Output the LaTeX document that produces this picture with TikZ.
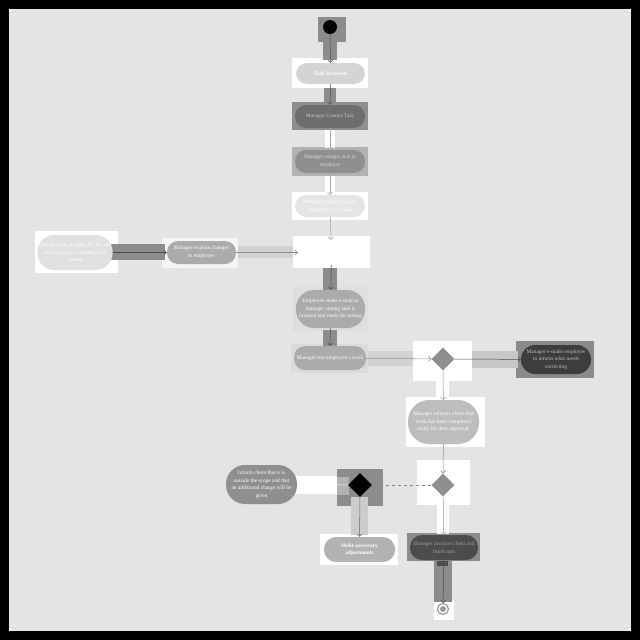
\documentclass[tikz,border=0pt]{standalone}
\usepackage{fontspec}
\setmainfont{Liberation Serif}
\usetikzlibrary{arrows.meta,shapes.geometric}
\definecolor{bg}{HTML}{E4E4E4}
\newcommand{\nodefont}{\fontsize{5.4}{7.6}\selectfont}
\begin{document}
\begin{tikzpicture}[x=1pt,y=-1pt,
  act/.style={draw=none,rounded corners=#1,align=center,inner sep=1pt,
    font=\nodefont},
  act/.default=11pt,
  dia/.style={diamond,draw=none,minimum width=23pt,minimum height=23pt,inner sep=0pt},
  conn/.style={draw=black!70,line width=0.5pt,-{Straight Barb[length=2.5pt,width=5pt]}}
]
\useasboundingbox (0,0) rectangle (640,640);
\fill[black] (0,0) rectangle (640,640);
\fill[bg] (9,9) rectangle (631,631);

% ---------- highlight boxes ----------
\fill[black!45] (318,17) rectangle (346,42);
\fill[white] (292,58) rectangle (368,88);
\fill[black!44] (292,102) rectangle (368,130);
\fill[black!30] (292,147) rectangle (368,176);
\fill[white] (292,192) rectangle (368,220);
\fill[white] (293,236) rectangle (370,268);
\fill[white!96!black] (162,238) rectangle (238,268);
\fill[white] (35,231) rectangle (118,273);
\fill[black!13] (293,287) rectangle (368,331);
\fill[black!14] (291,344) rectangle (368,373);
\fill[white] (413,341) rectangle (472,381);
\fill[black!46] (516,341) rectangle (594,378);
\fill[white] (406,397) rectangle (485,447);
\fill[white] (417,460) rectangle (470,505);
\fill[black!45] (337,469) rectangle (383,506);
\fill[black!30] (337,477) rectangle (349,495);
\fill[black!11] (222,460) rectangle (300,508);
\fill[white] (320,534) rectangle (398,565);
\fill[black!45] (407,533) rectangle (480,561);
\fill[white] (434,600) rectangle (454,620);

% ---------- bands ----------
\fill[black!45] (323,42) rectangle (337,60);
\fill[black!45] (324,88) rectangle (336,103);
\fill[white] (325,130) rectangle (335,148);
\fill[white] (325,176) rectangle (335,192);
\fill[black!45] (110,244) rectangle (165,260);
\fill[black!18] (238,246) rectangle (293,258);
\fill[black!45] (323,268) rectangle (337,292);
\fill[black!45] (323,330) rectangle (337,348);
\fill[black!18] (368,351) rectangle (413,366);
\fill[black!22] (472,351) rectangle (518,368);
\fill[white] (436,381) rectangle (449,398);
\fill[white] (296,476) rectangle (337,494);
\fill[black!20] (351,497) rectangle (368,535);
\fill[white] (437,505) rectangle (449,534);
\fill[black!45] (434,561) rectangle (452,602);
\fill[black!70] (437,561) rectangle (448,566);

% ---------- nodes ----------
\node[circle,fill=black,minimum size=14pt,inner sep=0pt] (start) at (330,27) {};
\node[act,fill=black!17,text=white,minimum width=69pt,minimum height=21pt,font=\nodefont\bfseries] (recv) at (330.5,73.5) {Task Received};
\node[act,fill=black!57,text=black!22,minimum width=70pt,minimum height=23pt] (creates) at (330,116.5) {Manager Creates Task};
\node[act,fill=black!44,text=black!15,minimum width=70pt,minimum height=23pt] (assigns) at (330,161.5) {Manager assigns task to\\employee};
\node[act,fill=black!10,text=white,minimum width=70pt,minimum height=22pt] (explains) at (330,206) {Manager explains task to\\employee via e-mail};
\node[act,fill=white,text=white,minimum width=67pt,minimum height=25pt] (work) at (331.5,252.5) {Employee works on\\task};
\node[act,fill=black!33,text=white,minimum width=69pt,minimum height=23pt] (changes) at (201.5,252.5) {Manager explain changes\\to employee};
\node[act=17pt,fill=black!12,text=white,minimum width=72pt,minimum height=35pt] (reopen) at (75,252.5) {Manager may re-open file for edit\\and re-assign to employee if\\needed};
\node[act=18pt,fill=black!33,text=white,minimum width=69pt,minimum height=38pt] (sends) at (330.5,309) {Employee sends e-mail to\\manager stating task is\\finished and ready for testing};
\node[act,fill=black!33,text=white,minimum width=72pt,minimum height=24pt] (test) at (330,358) {Manager test employee's work};
\node[dia,fill=black!44] (d1) at (443,359) {};
\node[act=14pt,fill=black!76,text=black!25,minimum width=70pt,minimum height=29pt] (emails) at (556,359.5) {Manager e-mails employee\\to inform what needs\\correcting};
\node[act=21pt,fill=black!26,text=white,minimum width=71pt,minimum height=44pt] (informs) at (443.5,422) {Manager informs client that\\work has been completed\\ready for their approval.};
\node[dia,fill=black!44] (d2) at (443,485) {};
\node[dia,fill=black,minimum width=24pt,minimum height=24pt] (bd) at (360,485) {};
\node[act=19pt,fill=black!44,text=white,minimum width=71pt,minimum height=39pt] (inform) at (261.5,484.5) {Inform client that it is\\outside the scope and that\\an additional charge will be\\given};
\node[act=12pt,fill=black!30,text=white,minimum width=71pt,minimum height=25pt,font=\nodefont\bfseries] (adjust) at (359.5,549.5) {Make necessary\\adjustments};
\node[act=12pt,fill=black!70,text=black!38,minimum width=68pt,minimum height=25pt] (invoice) at (444,547.5) {Manager invoices client and\\finish task};
\node[circle,draw=black!40,line width=1.2pt,fill=white,minimum size=11pt,inner sep=0pt] (end) at (443,609) {};
\fill[black!40] (end.center) circle (3pt);

% ---------- connectors ----------
\draw[conn] (start) -- (recv);
\draw[conn] (recv) -- (creates);
\draw[conn,draw=black!35] (creates) -- (assigns);
\draw[conn,draw=black!35] (assigns) -- (explains);
\draw[conn,draw=black!40] (explains) -- (work);
\draw[conn] (reopen) -- (changes);
\draw[conn,draw=black!45] (changes) -- (work);
\draw[conn] (work) -- (sends);
\draw[conn] (sends) -- (test);
\draw[conn,draw=black!45] (test) -- (d1);
\draw[conn] (d1) -- (emails);
\draw[conn,draw=black!40] (d1) -- (informs);
\draw[conn,draw=black!45] (informs) -- (d2);
\draw[conn,dashed,draw=black!45] (d2) -- (bd);
\draw[conn,draw=white] (bd) -- (inform);
\draw[conn,draw=black!60] (bd) -- (adjust);
\draw[conn,draw=black!40] (d2) -- (invoice);
\draw[conn] (invoice) -- (end);
\end{tikzpicture}
\end{document}
